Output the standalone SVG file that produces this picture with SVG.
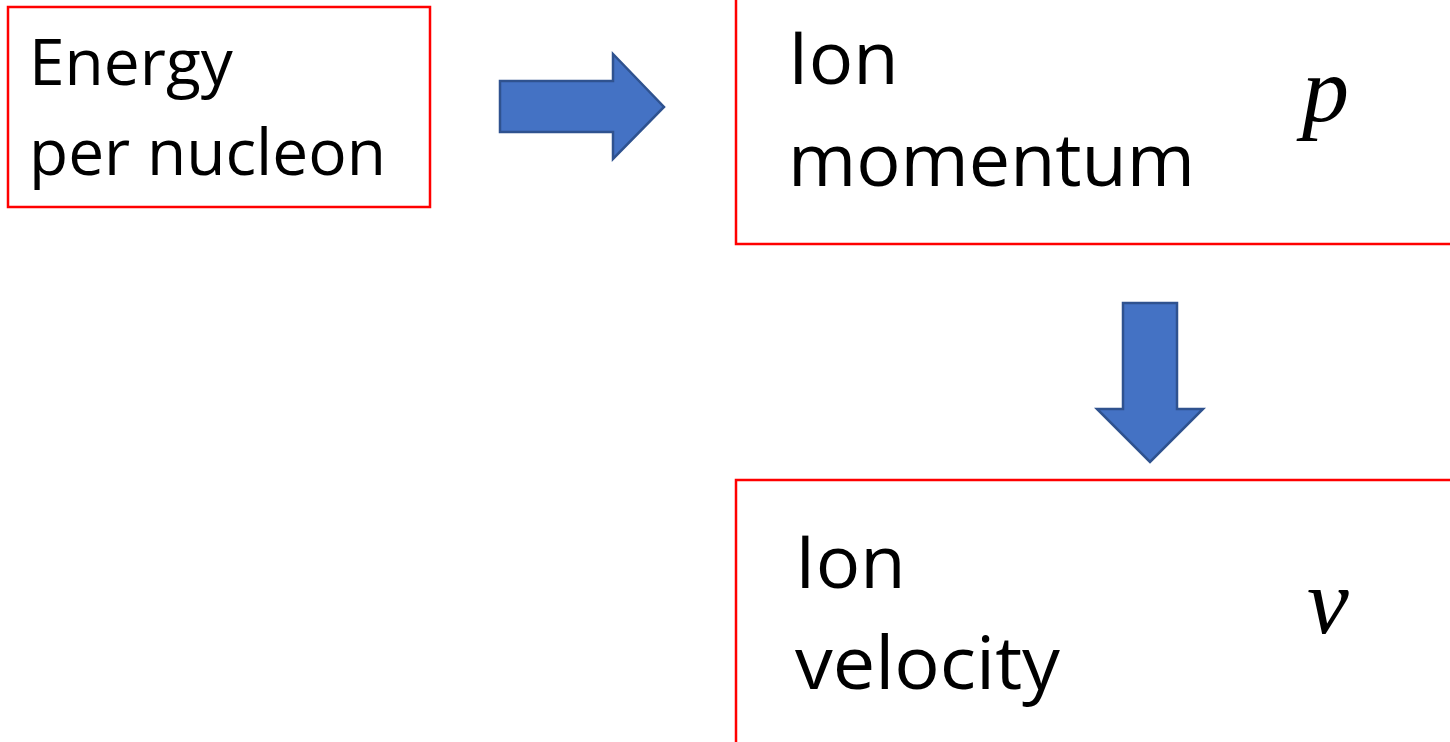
<svg xmlns="http://www.w3.org/2000/svg" width="1450" height="742" viewBox="0 0 1450 742">
<style>
.box{fill:#fff;stroke:#ff0000;stroke-width:2.5}
.lbl{font-family:"Open Sans","DejaVu Sans",sans-serif;fill:#000}
.math{font-family:"Liberation Serif","DejaVu Serif",serif;font-style:italic;fill:#000}
.arr{fill:#4472c4;stroke:#2f528f;stroke-width:2.5;stroke-linejoin:miter}
</style>
<rect width="1450" height="742" fill="#fff"/>
<g id="energy">
<rect class="box" x="8" y="7" width="422" height="200"/>
<text class="lbl" x="29" y="85" font-size="64">Energy</text>
<text class="lbl" x="29" y="175" font-size="64" textLength="357" lengthAdjust="spacingAndGlyphs">per nucleon</text>
</g>
<g id="momentum">
<rect class="box" x="736" y="-10" width="730" height="254"/>
<text class="lbl" x="788" y="84" font-size="74">Ion</text>
<text class="lbl" x="788" y="186" font-size="74" textLength="407" lengthAdjust="spacingAndGlyphs">momentum</text>
<text class="math" x="1302" y="121" font-size="94">p</text>
</g>
<g id="velocity">
<rect class="box" x="736" y="480" width="730" height="280"/>
<text class="lbl" x="795" y="588" font-size="74">Ion</text>
<text class="lbl" x="795" y="689" font-size="74" textLength="265" lengthAdjust="spacingAndGlyphs">velocity</text>
<text class="math" x="1307" y="633" font-size="94">v</text>
</g>
<g id="connectors">
<polygon class="arr" points="500,81 613,81 613,54 664,107 613,159 613,132 500,132"/>
<polygon class="arr" points="1123,303 1177,303 1177,409 1203,409 1150,462 1097,409 1123,409"/>
</g>
</svg>
